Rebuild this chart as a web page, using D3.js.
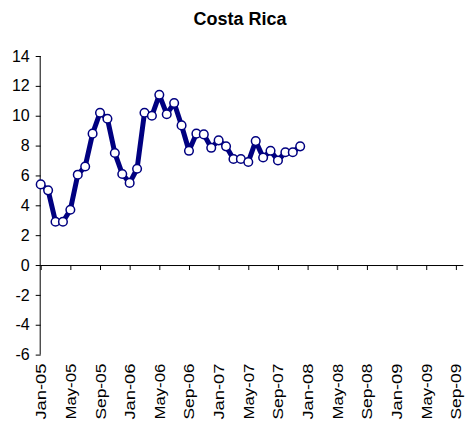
<!DOCTYPE html>
<html><head><meta charset="utf-8">
<script src="https://cdn.jsdelivr.net/npm/d3@7"></script>
<style>body{margin:0;background:#fff}svg{display:block}text{font-family:"Liberation Sans",Arial,sans-serif}</style>
</head><body>
<svg id="c" width="468" height="430"></svg>
<script>
const title = "Costa Rica";
const months = ["Jan-05","Feb-05","Mar-05","Apr-05","May-05","Jun-05","Jul-05","Aug-05","Sep-05","Oct-05","Nov-05","Dec-05",
"Jan-06","Feb-06","Mar-06","Apr-06","May-06","Jun-06","Jul-06","Aug-06","Sep-06","Oct-06","Nov-06","Dec-06",
"Jan-07","Feb-07","Mar-07","Apr-07","May-07","Jun-07","Jul-07","Aug-07","Sep-07","Oct-07","Nov-07","Dec-07"];
const values = [5.4,5.0,2.9,2.9,3.7,6.05,6.6,8.8,10.2,9.8,7.5,6.1,
5.5,6.45,10.2,10.0,11.4,10.1,10.85,9.35,7.65,8.8,8.75,7.85,
8.35,7.95,7.1,7.1,6.9,8.3,7.2,7.65,7.0,7.55,7.55,7.95];
const xTickLabels = ["Jan-05","May-05","Sep-05","Jan-06","May-06","Sep-06","Jan-07","May-07","Sep-07","Jan-08","May-08","Sep-08","Jan-09","May-09","Sep-09"];
const yTicks = [-6,-4,-2,0,2,4,6,8,10,12,14];
const xDomainMonths = 57;

const svg = d3.select("#c");
const x = d3.scaleLinear().domain([0, xDomainMonths]).range([40.7, 463.3]);
const y = d3.scaleLinear().domain([-6, 14]).range([354.6, 56]);
const navy = "#000080";

svg.append("text").attr("x", 240).attr("y", 25).attr("text-anchor","middle")
  .attr("font-size", 18).attr("font-weight","bold").text(title);

// y axis
const yAxis = d3.axisLeft(y).tickValues(yTicks).tickSize(5).tickPadding(6).tickFormat(d => String(d));
const gy = svg.append("g").attr("transform", `translate(${x(0)},0)`).call(yAxis);
gy.select(".domain").attr("stroke","#000").attr("d", `M-0.5,${y(14)}V${y(-6)}`);
gy.selectAll(".tick line").attr("stroke","#000");
gy.selectAll(".tick text").attr("font-size", 16).attr("font-family","Liberation Sans, Arial").attr("fill","#000");

// x axis at zero
const tickIdx = xTickLabels.map((d,i)=>i*4);
const xAxis = d3.axisBottom(x).tickValues(tickIdx).tickSize(5).tickFormat("");
const gx = svg.append("g").attr("transform", `translate(0,${y(0)})`).call(xAxis);
gx.select(".domain").attr("stroke","#000").attr("d", `M${x(0)},0.5H${x(xDomainMonths)}`);
gx.selectAll(".tick line").attr("stroke","#000");

// x labels at bottom
svg.append("g").selectAll("text").data(xTickLabels).join("text")
  .attr("transform", (d,i)=>`translate(${x(i*4)+5.5},${y(-6)+9}) rotate(-90)`)
  .attr("text-anchor","end").attr("font-size",15)
  .attr("textLength", 56).attr("lengthAdjust","spacingAndGlyphs")
  .text(d=>d);

// line
const line = d3.line().x((d,i)=>x(i)).y(d=>y(d));
svg.append("path").datum(values).attr("d", line).attr("fill","none")
  .attr("stroke", navy).attr("stroke-width", 5).attr("stroke-linejoin","round");
svg.append("g").selectAll("circle").data(values).join("circle")
  .attr("cx",(d,i)=>x(i)).attr("cy",d=>y(d)).attr("r",4.3)
  .attr("fill","#fff").attr("stroke",navy).attr("stroke-width",1.5);
</script>
</body></html>
